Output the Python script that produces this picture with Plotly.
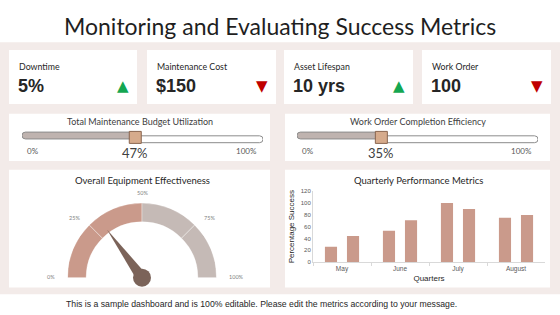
import math
import plotly.graph_objects as go

# ---------------- data ----------------
page_title = "Monitoring and Evaluating Success Metrics"
footer_text = "This is a sample dashboard and is 100% editable. Please edit the metrics according to your message."

kpi_labels = ["Downtime", "Maintenance Cost", "Asset Lifespan", "Work Order"]
kpi_values = ["5%", "$150", "10 yrs", "100"]
kpi_trends = ["up", "down", "up", "down"]

slider_titles = ["Total Maintenance Budget Utilization", "Work Order Completion Efficiency"]
slider_values = [47, 35]

gauge_title = "Overall Equipment Effectiveness"
gauge_segments = [25, 25, 25, 25]
gauge_tick_vals = [0, 25, 50, 75, 100]
gauge_tick_text = ["0%", "25%", "50%", "75%", "100%"]
gauge_value = 30

bar_title = "Quarterly Performance Metrics"
months = ["May", "June", "July", "August"]
series_a = [26, 53, 100, 75]
series_b = [44, 71, 90, 80]
y_ticks = [0, 20, 40, 60, 80, 100, 120]

# ---------------- style ----------------
W, H = 560, 315
BG = "#F3EBE9"
SALMON = "#CA9A8B"
GREY = "#C5BAB6"
NEEDLE = "#7B6359"
TRACK = "#BFB3AF"
THUMB = "#D6AB8C"
TXT = "#404040"
GEO = "Lato, 'DejaVu Sans', sans-serif"
ARIAL = "'Liberation Sans', Arial, sans-serif"


def X(px):
    return px / W


def Y(py):
    return 1 - py / H


shapes = []
annotations = []


def ann(text, x, y, size, color="#262626", family=GEO, xanchor="center", xref="paper", **kw):
    d = dict(text=text, x=x, y=y, xref=xref, yref="paper", xanchor=xanchor, yanchor="middle",
             showarrow=False, font=dict(family=family, size=size, color=color))
    d.update(kw)
    annotations.append(d)


def card(x0, x1, y0, y1):
    shapes.append(dict(type="rect", xref="paper", yref="paper", x0=X(x0), x1=X(x1),
                       y0=Y(y1), y1=Y(y0), fillcolor="white", line=dict(width=0), layer="below"))


# background panel
shapes.append(dict(type="rect", xref="paper", yref="paper", x0=0, x1=1, y0=Y(297), y1=Y(40),
                   fillcolor=BG, line=dict(width=0), layer="below"))

# title & footer
ann(page_title, X(280), Y(23), 23, "#1F1F1F")
ann(footer_text, X(261), Y(307), 8.7, "#262626", family=ARIAL)

# KPI cards
kpi_boxes = [(9, 137), (147, 276), (284, 413), (422, 551)]
for (x0, x1), lab, val, tr in zip(kpi_boxes, kpi_labels, kpi_values, kpi_trends):
    card(x0, x1, 48, 103)
    ann(lab, X(x0 + 8), Y(65), 8.8, xanchor="left")
    ann("<b>%s</b>" % val, X(x0 + 7), Y(85), 18, family=ARIAL, xanchor="left")
    ann("▲" if tr == "up" else "▼", X(x1 - 14), Y(85), 15, family="DejaVu Sans",
        color="#14A651" if tr == "up" else "#C00000")

# slider cards
slider_boxes = [(9, 270, 22, 263), (285, 550, 297, 538)]
for (c0, c1, t0, t1), title in zip(slider_boxes, slider_titles):
    card(c0, c1, 113, 161)
    ann(title, X((c0 + c1) / 2), Y(121), 9, TXT)

# lower cards
for c0, c1 in [(9, 270), (285, 550)]:
    card(c0, c1, 170, 290)
ann(gauge_title, X(142), Y(181), 9.5)
ann(bar_title, X(418), Y(181), 9.5)

fig = go.Figure()

# ---------------- bar chart ----------------
for s in (series_a, series_b):
    fig.add_trace(go.Bar(x=months, y=s, marker=dict(color=SALMON, line=dict(width=0)),
                         xaxis="x", yaxis="y", showlegend=False))

# ---------------- sliders ----------------
for i, ((c0, c1, t0, t1), v) in enumerate(zip(slider_boxes, slider_values)):
    xa = "x%d" % (i + 2)
    ya = "y%d" % (i + 2)
    fig.add_trace(go.Bar(x=[100 - v], base=[v], y=[0], orientation="h", width=0.7,
                         marker=dict(color="white", line=dict(color="#8C8C8C", width=1), cornerradius=4),
                         xaxis=xa, yaxis=ya, showlegend=False))
    fig.add_trace(go.Bar(x=[-v], base=[v], y=[0], orientation="h", width=0.7,
                         marker=dict(color=TRACK, line=dict(color="#8C8C8C", width=1), cornerradius=4),
                         xaxis=xa, yaxis=ya, showlegend=False))
    fig.add_trace(go.Scatter(x=[v], y=[0], mode="markers", cliponaxis=False,
                             marker=dict(symbol="square", size=12, color=THUMB,
                                         line=dict(color="#8A6650", width=1)),
                             xaxis=xa, yaxis=ya, showlegend=False))
    ann("%d%%" % v, v, Y(153), 13, TXT, xref=xa)
    ann("0%", 0, Y(151), 8, "#595959", xref=xa, xanchor="left", xshift=3)
    ann("100%", 100, Y(151), 8, "#595959", xref=xa, xanchor="right", xshift=-4)

# ---------------- gauge ----------------
seg_colors = [SALMON, SALMON, GREY, GREY]
centers, widths, acc = [], [], 0
for s in gauge_segments:
    centers.append((acc + s / 2) * 1.8)
    widths.append(s * 1.8)
    acc += s
fig.add_trace(go.Barpolar(theta=centers, width=widths, r=[0.25] * 4, base=[0.75] * 4,
                          marker=dict(color=seg_colors, line=dict(color="white", width=0.35)),
                          subplot="polar", showlegend=False))
th = gauge_value * 1.8
fig.add_trace(go.Scatterpolar(r=[0.075, 0.8, 0.075, 0.075], theta=[th - 90, th, th + 90, th - 90],
                              mode="lines", fill="toself", fillcolor=NEEDLE, line=dict(width=0, color=NEEDLE),
                              cliponaxis=False, subplot="polar", showlegend=False))
fig.add_trace(go.Scatterpolar(r=[0], theta=[0], mode="markers", cliponaxis=False,
                              marker=dict(size=18, color=NEEDLE), subplot="polar", showlegend=False))

# gauge tick labels placed around the arc (centre and radius of the polar domain)
gcx, gcy, g_r = 142, 280, 76
for v, t in zip(gauge_tick_vals, gauge_tick_text):
    a = math.pi * (1 - v / 100)
    rl = g_r + 9
    ann(t, X(gcx + rl * math.cos(a)), Y(gcy - rl * math.sin(a) - 1), 5.5, "#7F7F7F",
        xanchor="right" if v < 50 else ("left" if v > 50 else "center"))

axis_font = dict(family=ARIAL, size=6, color="#595959")
fig.update_layout(
    width=W, height=H, margin=dict(l=0, r=0, t=0, b=0),
    paper_bgcolor="white", plot_bgcolor="rgba(0,0,0,0)",
    shapes=shapes, annotations=annotations,
    barmode="group", bargap=0.24, bargroupgap=0.45,
    xaxis=dict(domain=[X(313), X(545)], anchor="y", type="category", showline=True,
               linecolor="#D9D9D9", ticks="outside", tickson="boundaries", ticklen=3,
               tickcolor="#D9D9D9", tickfont=dict(family=ARIAL, size=6.5, color="#595959"),
               title=dict(text="Quarters", font=dict(family=ARIAL, size=8, color="#262626"), standoff=3),
               fixedrange=True),
    yaxis=dict(domain=[Y(264), Y(192)], anchor="x", range=[0, 120], tickvals=y_ticks,
               showline=True, linecolor="#D9D9D9", showgrid=False, zeroline=False,
               ticks="", tickfont=axis_font,
               title=dict(text="Percentage Success", font=dict(family=ARIAL, size=8, color="#262626"),
                          standoff=4)),
    xaxis2=dict(domain=[X(22), X(263)], anchor="y2", range=[0, 100], visible=False),
    yaxis2=dict(domain=[Y(147), Y(127)], anchor="x2", range=[-1, 1], visible=False),
    xaxis3=dict(domain=[X(297), X(538)], anchor="y3", range=[0, 100], visible=False),
    yaxis3=dict(domain=[Y(147), Y(127)], anchor="x3", range=[-1, 1], visible=False),
    polar=dict(domain=dict(x=[X(gcx - g_r), X(gcx + g_r)], y=[Y(gcy), Y(gcy - g_r)]), sector=[0, 180],
               bgcolor="rgba(0,0,0,0)",
               radialaxis=dict(range=[0, 1], visible=False),
               angularaxis=dict(rotation=180, direction="clockwise", showticklabels=False,
                                showline=False, showgrid=False, ticks="")),
)

fig.write_html("out.html")
